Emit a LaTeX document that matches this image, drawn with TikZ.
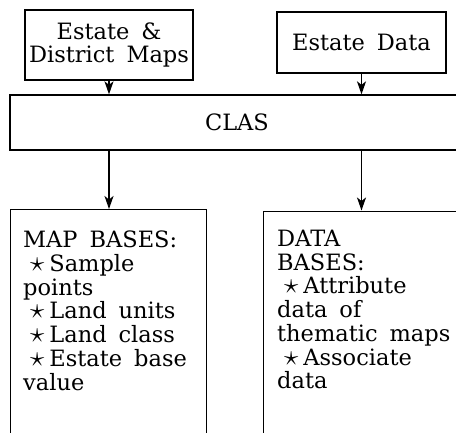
\documentclass[tikz,border=0pt]{standalone}
\usepackage{fontspec}
\setmainfont{DejaVu Serif}
\usetikzlibrary{arrows.meta}

\newcommand\boxfont{\fontsize{22.5pt}{23.7pt}\selectfont\spaceskip 12pt\relax}
\newcommand\itm{\hspace*{7pt}\smash{\scalebox{1.4}{$\star$}}\hspace{5pt}}

\tikzset{
  box/.style={draw,line width=1.3pt,inner sep=0pt},
  txt/.style={font=\boxfont,inner sep=0pt},
  flow/.style={line width=1.3pt,-{Stealth[length=13pt,width=9pt,inset=3.5pt]}}
}

\begin{document}
\begin{tikzpicture}[x=1pt,y=1pt]
\clip (0,0) rectangle (456,-432);

\node[box,txt,align=center,minimum width=168,minimum height=70] at (109,-45) (maps) {Estate \&\\District Maps};
\node[box,txt,minimum width=169,minimum height=61] at (361.5,-42.5) (data) {Estate Data};
\node[box,txt,minimum width=454,minimum height=55] at (237,-122.5) (clas) {CLAS};

\node[box,anchor=north west,minimum width=196,minimum height=240] at (9.5,-209) (mapbox) {};
\node[box,anchor=north west,minimum width=200,minimum height=240] at (262.5,-210.5) (databox) {};

\node[txt,align=left,anchor=north west] at ([shift={(13.5,-21.9)}]mapbox.north west) (maptext)
  {MAP BASES:\\\itm Sample\\points\\\itm Land units\\\itm Land class\\\itm Estate base\\value};
\node[txt,align=left,anchor=north west] at ([shift={(14.5,-19.4)}]databox.north west) (datatext)
  {DATA\\BASES:\\\itm Attribute\\data of\\thematic maps\\\itm Associate\\data};

\draw[flow] (maps.south) -- (maps.south |- clas.north);
\draw[flow] (data.south) -- (data.south |- clas.north);
\draw[flow] (clas.south -| maps.south) -- (mapbox.north -| maps.south);
\draw[flow] (clas.south -| data.south) -- (databox.north -| data.south);
\end{tikzpicture}
\end{document}
